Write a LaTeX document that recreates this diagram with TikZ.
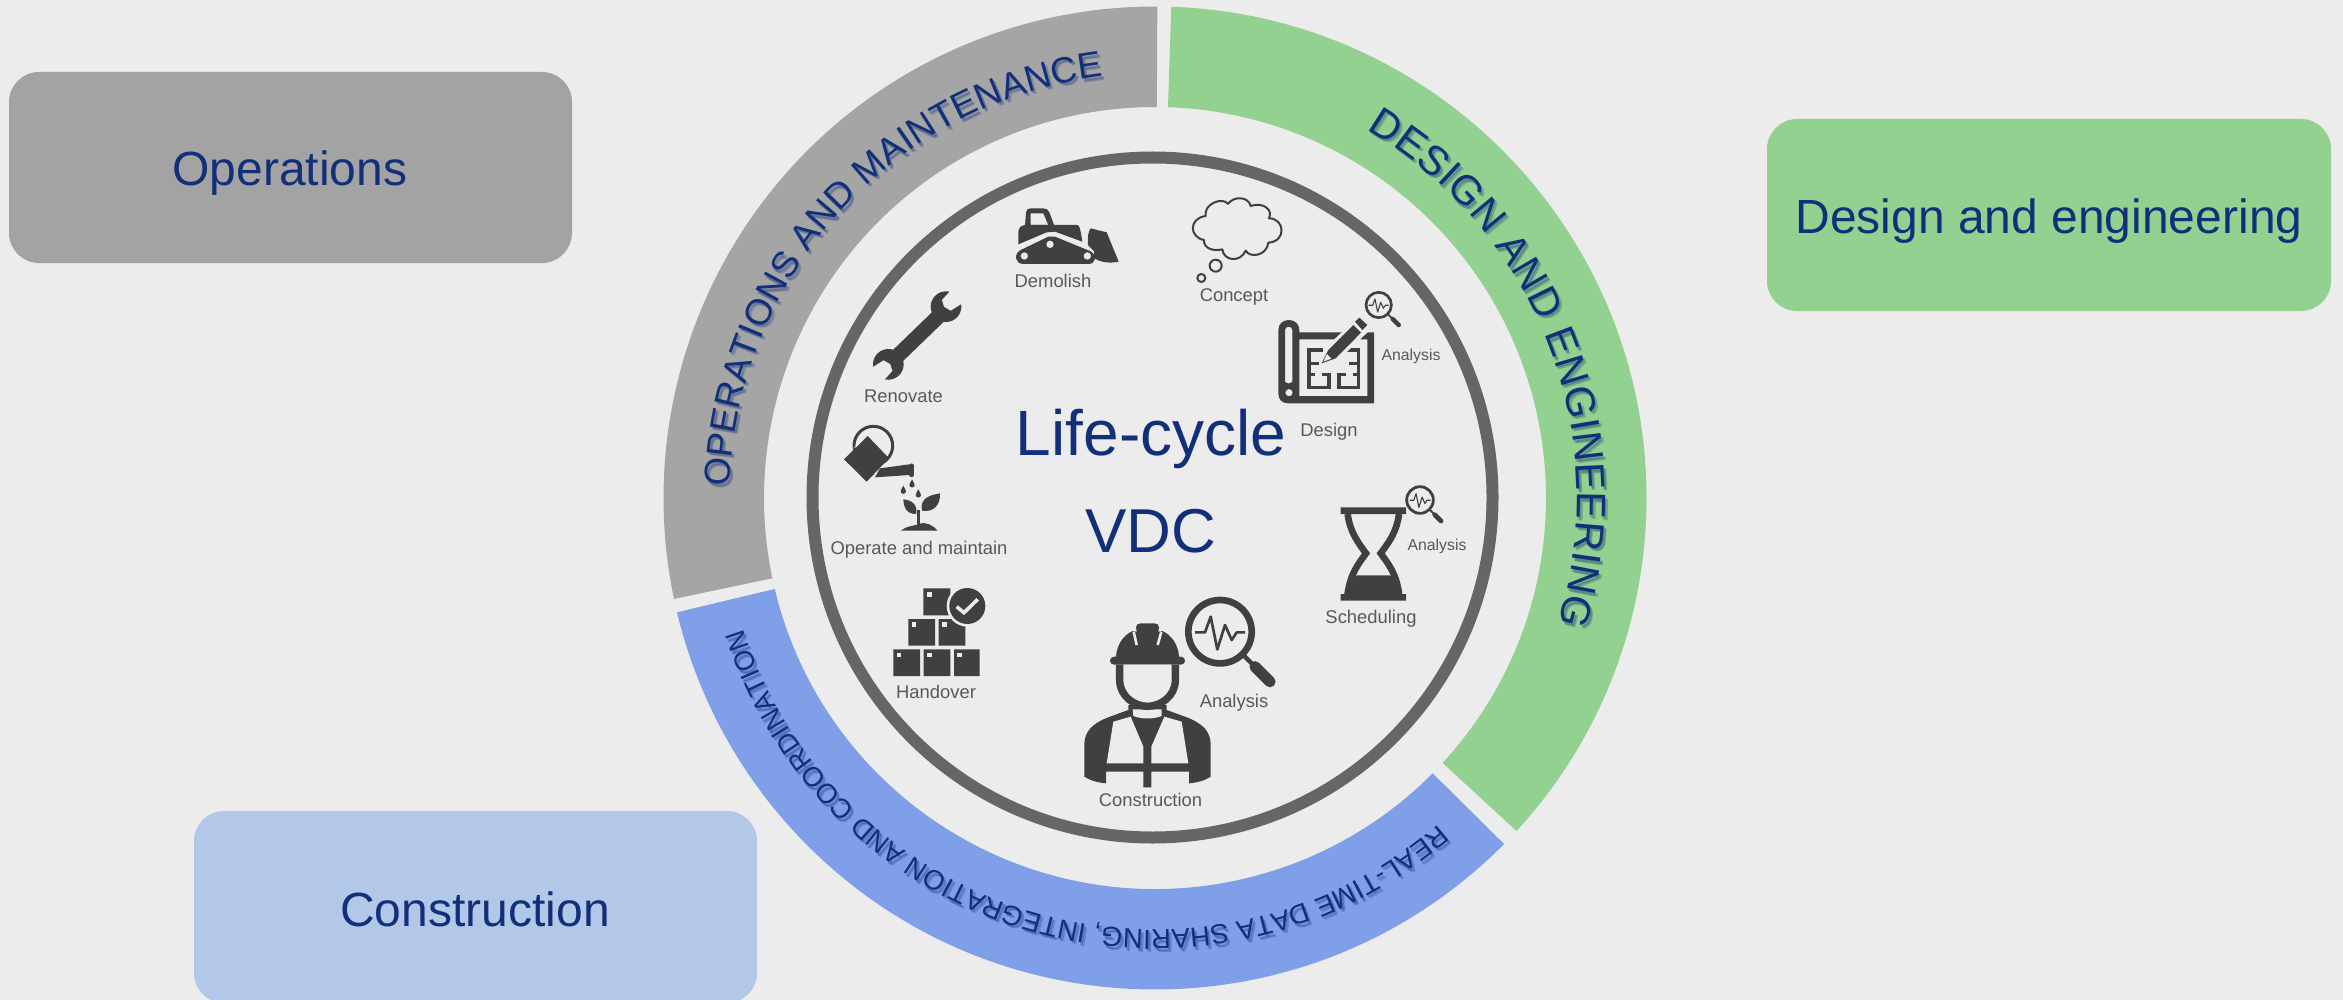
\documentclass[tikz,border=0pt]{standalone}
\usepackage{fontspec}
\setmainfont{Liberation Sans}
\usetikzlibrary{decorations.text}
\definecolor{bgc}{HTML}{ECECEC}
\definecolor{navyc}{HTML}{12307A}
\definecolor{greenc}{HTML}{92D18F}
\definecolor{bluec}{HTML}{7F9FE8}
\definecolor{grayc}{HTML}{A5A5A5}
\definecolor{bluebox}{HTML}{B3C7E8}
\definecolor{grayboxc}{HTML}{A3A3A3}
\definecolor{ringc}{HTML}{666666}
\definecolor{iconc}{HTML}{404040}
\definecolor{labelc}{HTML}{595959}
\tikzset{
  phasebox/.style={draw=none,rounded corners=15pt},
  boxtext/.style={text=navyc,anchor=base,inner sep=0pt,font=\fontsize{24}{28}\selectfont},
  bigtext/.style={text=navyc,anchor=base,inner sep=0pt,font=\fontsize{31}{36}\selectfont},
  lab/.style={text=labelc,anchor=base,inner sep=0pt,font=\fontsize{9.2}{11}\selectfont},
  smalllab/.style={text=labelc,anchor=base,inner sep=0pt,font=\fontsize{7.9}{9}\selectfont},
  ic/.style={fill=iconc,draw=none},
  gap/.style={fill=bgc,draw=none},
  icl/.style={draw=iconc,fill=none},
}
\newcommand\sector[3]{% colour, start, end  (two radii fixed)
  \fill[#1] (#2:491.5) arc[start angle=#2,end angle=#3,radius=245.75pt]
    -- (#3:391) arc[start angle=#3,end angle=#2,radius=195.5pt] -- cycle;}
\newcommand\arctxt[6]{% size, colour, text, start, end, radius
  \path[decorate,decoration={text along path,text align={fit to path},
    text={|\fontsize{#1}{#1}\selectfont\color{#2}|#3}}]
    (#4:#6) arc[start angle=#4,end angle=#5,radius=#6*0.5pt];}
\newcommand\ringtexts{%
  \begin{scope}[shift={(-6,0)}]
  \arctxt{20.5}{navyc}{DESIGN AND ENGINEERING}{59.5}{-17}{428}
  \end{scope}
  \arctxt{18.2}{navyc}{OPERATIONS AND MAINTENANCE}{178.5}{97}{425}
  \arctxt{13.8}{navyc}{REAL-TIME DATA SHARING, INTEGRATION AND COORDINATION}{-49}{-162.3}{432}}
\newcommand\magicon[3]{%
  \begin{scope}[shift={(#1,#2)},scale=#3]
    \draw[iconc,line width=#3*3.33pt] (0,0) circle[radius=31.7];
    \draw[iconc,line width=#3*2.2pt] (24,24) -- (34,34);
    \draw[iconc,line width=#3*5.6pt,line cap=round] (35,35) -- (50,50);
    \draw[iconc,line width=#3*1.33pt,line join=round]
      (-25,.7) -- (-15,.7) -- (-9.3,-15) -- (-2.7,17.7) -- (5,-6.7) -- (11.7,8.3) -- (16.7,.7) -- (25,.7);
  \end{scope}}
\begin{document}
\begin{tikzpicture}[x=0.5pt,y=-0.5pt]
\useasboundingbox (0,0) rectangle (2343,1000);
\fill[bgc] (0,0) rectangle (2343,1000);
% phase boxes
\fill[grayboxc,phasebox] (9,72) rectangle (572,263);
\fill[greenc,phasebox] (1767,119) rectangle (2331,311);
\begin{scope}
\clip (0,0) rectangle (2343,1000);
\fill[bluebox,phasebox] (194,811) rectangle (757,1003);
\end{scope}
\node[boxtext] (opsbox) at (290,186) {Operations};
\node[boxtext] (desbox) at (2049,234) {Design and engineering};
\node[boxtext] (conbox) at (475,926) {Construction};
% rings
\begin{scope}[shift={(1155,498)},y=0.5pt]
\sector{greenc}{88.1}{-42.65}
\sector{bluec}{-44.75}{-166.55}
\sector{grayc}{191.85}{89.73}
% soft drop shadow of the ring lettering, as in the reference
\begin{scope}[opacity=.25]
\foreach \dx/\dy in {1.5/-2.5,3/-3.5}{
  \begin{scope}[shift={(\dx,\dy)}]\ringtexts\end{scope}}
\end{scope}
\ringtexts
\end{scope}
\draw[ringc,line width=6pt] (1152.5,497.5) circle[radius=340];
% centre text
\node[bigtext,font=\fontsize{32}{36}\selectfont] (lc) at (1151,455) {Life-cycle};
\node[bigtext] (vdc) at (1151,552) {VDC};
% labels
\node[lab] (demolish) at (1053,287) {Demolish};
\node[lab] (concept) at (1234,301) {Concept};
\node[smalllab] (an1) at (1411,360) {Analysis};
\node[lab] (design) at (1329,436) {Design};
\node[smalllab] (an2) at (1437,550) {Analysis};
\node[lab] (sched) at (1371,623) {Scheduling};
\node[lab] (an3) at (1234,707) {Analysis};
\node[lab] (constr) at (1150.5,806) {Construction};
\node[lab] (renov) at (903.5,402) {Renovate};
\node[lab] (operate) at (919,554) {Operate and maintain};
\node[lab] (handover) at (936,698) {Handover};
% bulldozer and cloud
\begin{scope}[shift={(1000,180)},scale=1/3]
\fill[ic,even odd rule] (75,137) -- (78,97) .. controls (79,88) and (84,85) .. (92,85) -- (130,85) .. controls (140,85) and (145,90) .. (148,97) -- (163,137) -- cycle
  (92,135) -- (92,100) -- (130,100) -- (145,135) -- cycle;
\fill[ic] (55,152) .. controls (57,143) and (62,137) .. (75,135) -- (230,135) .. controls (238,135) and (240,140) .. (247,185) -- (165,155) -- (140,157) -- (55,193) -- cycle;
\fill[ic] (62,210) -- (145,170) -- (165,170) -- (272,214) .. controls (290,225) and (290,252) .. (265,252) -- (70,252) .. controls (45,252) and (40,222) .. (62,210) -- cycle;
\fill[gap] (73,228) circle[radius=11] (150,193) circle[radius=11] (262,228) circle[radius=11];
\fill[ic] (264,195) .. controls (262,170) and (265,155) .. (272,145) -- (320,157) -- (356,245) .. controls (325,252) and (295,245) .. (280,232) -- (283,215) -- cycle;
\draw[icl,line width=1pt,line join=round] (617,108) .. controls (610,70) and (670,50) .. (684,72)
  .. controls (700,48) and (745,48) .. (752,78) .. controls (790,65) and (820,90) .. (807,115)
  .. controls (855,115) and (860,185) .. (805,188) .. controls (800,228) and (750,235) .. (737,212)
  .. controls (720,250) and (670,242) .. (667,208) .. controls (640,215) and (610,205) .. (612,180)
  .. controls (568,172) and (565,115) .. (617,108) -- cycle;
\draw[icl,line width=1pt] (647,257) circle[radius=18] (604,294) circle[radius=12];
\end{scope}
% blueprint
\begin{scope}[shift={(1260,280)},scale=1/3]
\fill[ic,even odd rule] (55,150) .. controls (55,110) and (118,110) .. (118,150) -- (118,157) -- (342,157) -- (342,370) -- (85,370) .. controls (65,370) and (55,358) .. (55,340) -- cycle
  (75,150) .. controls (75,137) and (97,137) .. (97,150) -- (97,305) .. controls (90,312) and (82,312) .. (75,305) -- cycle
  (87,338) circle[radius=11]
  (118,178) -- (322,178) -- (322,348) -- (118,348) -- cycle;
\draw[iconc,line width=1.6pt] (142,210) -- (190,210) (147,205) -- (147,322) -- (207,322) -- (207,283) -- (185,283)
  (147,250) -- (178,250) (147,283) -- (165,283)
  (262,210) -- (295,210) -- (295,322) -- (237,322) -- (237,283) -- (258,283)
  (268,250) -- (295,250) (278,283) -- (295,283);
\fill[gap] (205,195) -- (282,122) -- (330,150) -- (232,243) -- (180,256) -- cycle;
\fill[ic] (205,210) -- (280,135) -- (303,158) -- (227,235) -- (185,250) -- cycle;
\fill[gap] (190,245) -- (201,222) -- (214,236) -- cycle;
\fill[ic] (285,125) -- (298,113) -- (322,135) -- (307,150) -- cycle;
\end{scope}
\magicon{1378.7}{305}{.4}
% hourglass
\begin{scope}[shift={(1300,470)},scale=1/3]
\fill[ic] (122,112) rectangle (318,132) (122,372) rectangle (318,392);
\fill[ic] (133,372) .. controls (138,345) and (150,325) .. (170,316) -- (270,316) .. controls (290,325) and (302,345) .. (307,372) -- cycle;
\draw[iconc,line width=3.3pt]
  (143,132) .. controls (150,190) and (180,225) .. (198,250) .. controls (180,275) and (150,310) .. (143,372)
  (297,132) .. controls (290,190) and (260,225) .. (242,250) .. controls (260,275) and (290,310) .. (297,372);
\end{scope}
\magicon{1420}{500}{.42}
% worker
\begin{scope}[shift={(1060,590)},scale=1/3]
\fill[ic] (205,345) -- (205,360) -- (150,380) .. controls (95,400) and (75,425) .. (73,460) -- (73,560) .. controls (90,572) and (115,578) .. (138,580) -- (138,545) -- (250,545) -- (250,592) -- (274,592) -- (274,545) -- (387,545) -- (387,580) .. controls (410,578) and (435,572) .. (452,560) -- (452,460) .. controls (450,425) and (430,400) .. (375,380) -- (320,360) -- (320,345) -- cycle;
\fill[gap] (160,395) -- (212,380) -- (250,470) -- (250,520) -- (140,520) -- cycle;
\fill[gap] (365,395) -- (313,380) -- (274,470) -- (274,520) -- (385,520) -- cycle;
\fill[gap] (218,358) -- (305,358) -- (305,378) .. controls (280,388) and (245,388) .. (220,378) -- cycle;
\fill[ic] (168,200) .. controls (170,165) and (190,135) .. (218,123) -- (230,125) -- (228,112) .. controls (228,104) and (234,100) .. (242,100) -- (283,100) .. controls (291,100) and (297,104) .. (297,112) -- (295,125) -- (307,123) .. controls (335,135) and (355,165) .. (357,200) -- (363,200) .. controls (379,200) and (379,224) .. (363,224) -- (162,224) .. controls (146,224) and (146,200) .. (162,200) -- cycle;
\draw[bgc,line width=1.3pt] (221,125) -- (230,165) (304,125) -- (293,165);
\fill[gap] (191,224) -- (334,224) -- (334,270) .. controls (334,310) and (300,337) .. (262,337) .. controls (225,337) and (191,310) .. (191,270) -- cycle;
\draw[iconc,line width=3.7pt] (179,224) -- (179,270) .. controls (179,320) and (225,349) .. (262,349) .. controls (300,349) and (346,320) .. (346,270) -- (346,224);
\end{scope}
\magicon{1220}{631.7}{1}
% wrench, can, plant
\begin{scope}[shift={(820,280)},scale=1/3]
\draw[iconc,line width=7.5pt] (220,240) -- (365,100);
\fill[ic] (378,80) circle[radius=46] (205,253) circle[radius=46];
\fill[gap] (398,25) -- (366,60) -- (372,80) -- (392,92) -- (440,62) -- cycle;
\fill[gap] (185,308) -- (217,273) -- (211,253) -- (191,241) -- (143,271) -- cycle;
\draw[iconc,line width=1.5pt] (160,497) circle[radius=58];
\fill[gap] (143,458) -- (188,505) -- (150,470) -- (100,505) -- cycle;
\fill[ic] (143,468) -- (207,535) -- (140,605) -- (72,538) -- cycle;
\fill[ic] (180,565) -- (268,553) -- (268,585) -- (165,592) -- cycle;
\draw[iconc,line width=2.2pt,line cap=round] (275,557) -- (275,585);
\foreach \px/\py in {276/612,250/631,295/642}{
  \fill[ic] (\px,\py-14) .. controls (\px+3,\py-6) and (\px+8,\py-2) .. (\px+8,\py+3) .. controls (\px+8,\py+13) and (\px-8,\py+13) .. (\px-8,\py+3) .. controls (\px-8,\py-2) and (\px-3,\py-6) .. (\px,\py-14) -- cycle;}
\draw[iconc,line width=1.5pt] (296,690) -- (296,738);
\fill[ic] (306,692) .. controls (298,655) and (330,645) .. (360,640) .. controls (362,675) and (340,698) .. (306,692) -- cycle;
\fill[ic] (288,702) .. controls (258,702) and (250,680) .. (250,658) .. controls (275,660) and (295,675) .. (288,702) -- cycle;
\fill[ic] (243,752) .. controls (258,738) and (280,738) .. (295,733) .. controls (320,722) and (340,738) .. (353,752) -- cycle;
\end{scope}
% boxes
\begin{scope}[shift={(880,570)},scale=1/3]
\fill[ic] (40,238) rectangle (120,318) (131,238) rectangle (211,318) (222,238) rectangle (299,318)
  (85,147) rectangle (165,227) (176,147) rectangle (256,227) (130,55) rectangle (211,136);
\foreach \qx/\qy in {50/248,141/248,232/248,95/157,186/157,141/66}{
  \fill[gap] (\qx,\qy) rectangle ++(14,14);}
\fill[gap] (262,108) circle[radius=62];
\fill[ic] (262,108) circle[radius=54];
\draw[bgc,line width=1.8pt] (230,110) -- (252,128) -- (293,88);
\end{scope}
\end{tikzpicture}
\end{document}
